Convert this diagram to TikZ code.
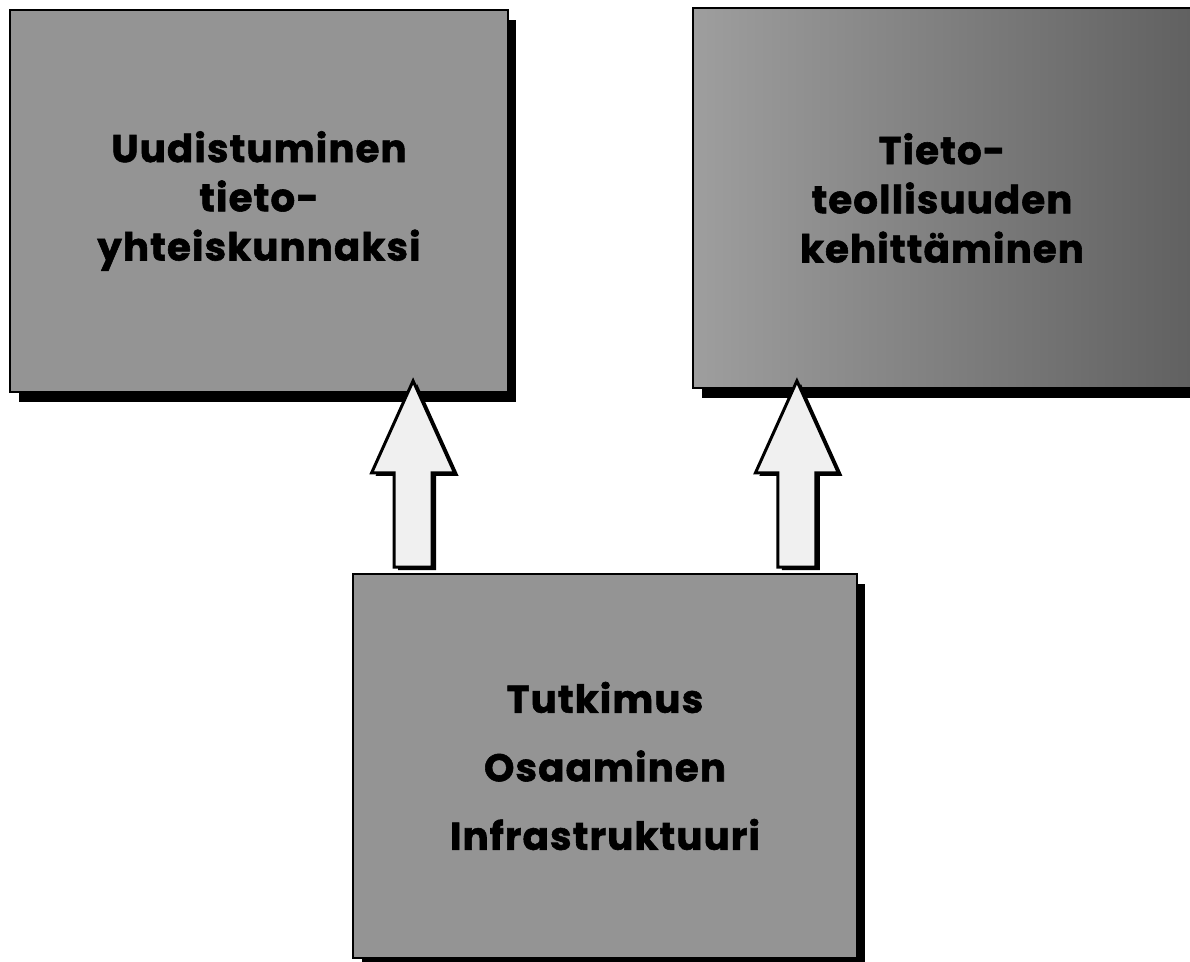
\documentclass[tikz,border=0pt]{standalone}
\usepackage{fontspec}
\newfontfamily\slidefont{Poppins}[LetterSpace=3, BoldFeatures={FakeBold=1.5}]
\usetikzlibrary{calc,shadows}

\newcommand{\blockarrow}[2]{%
  \path[uparrow] let \p1=(#1), \p2=(#2) in
    (\x1-0.38cm,\y1) -- (\x1-0.38cm,\y2-1.84cm) -- (\x1-0.83cm,\y2-1.84cm)
    -- (\x1,\y2) -- (\x1+0.83cm,\y2-1.84cm) -- (\x1+0.38cm,\y2-1.84cm)
    -- (\x1+0.38cm,\y1) -- cycle;}

\begin{document}
\begin{tikzpicture}[x=0.02cm, y=0.02cm,
    slide/.style={draw=black, line width=1.1pt, align=center,
        font=\slidefont\bfseries\fontsize{22}{28}\selectfont,
        drop shadow={shadow xshift=0.17cm, shadow yshift=-0.2cm, fill=black, opacity=1}},
    uparrow/.style={draw=black, line width=1.7pt, fill=black!6, line join=miter,
        drop shadow={shadow xshift=0.08cm, shadow yshift=-0.06cm, fill=black, opacity=1}}]
    \useasboundingbox (0,0) rectangle (1190,962);

    % the three slides
    \node[slide, fill=black!42, minimum width=9.96cm, minimum height=7.64cm] (uudis) at (259,761)
        {Uudistuminen\\tieto-\\yhteiskunnaksi};
    \node[slide, minimum width=9.96cm, minimum height=7.6cm,
        left color=black!38, right color=black!62] (teoll) at (942,764)
        {Tieto-\\teollisuuden\\kehittäminen};
    \node[slide, fill=black!42, minimum width=10.08cm, minimum height=7.68cm,
        font=\slidefont\bfseries\fontsize{22}{39}\selectfont] (tutki) at (605,196)
        {Tutkimus\\Osaaminen\\Infrastruktuuri};

    % arrows up
    \coordinate (a1) at ($(tutki.north west)+(61,6)$);
    \coordinate (b1) at ($(uudis.south east)+(-94,12)$);
    \coordinate (a2) at ($(tutki.north east)+(-61,6)$);
    \coordinate (b2) at ($(teoll.south west)+(103,8)$);
    \blockarrow{a1}{b1}
    \blockarrow{a2}{b2}
\end{tikzpicture}
\end{document}
